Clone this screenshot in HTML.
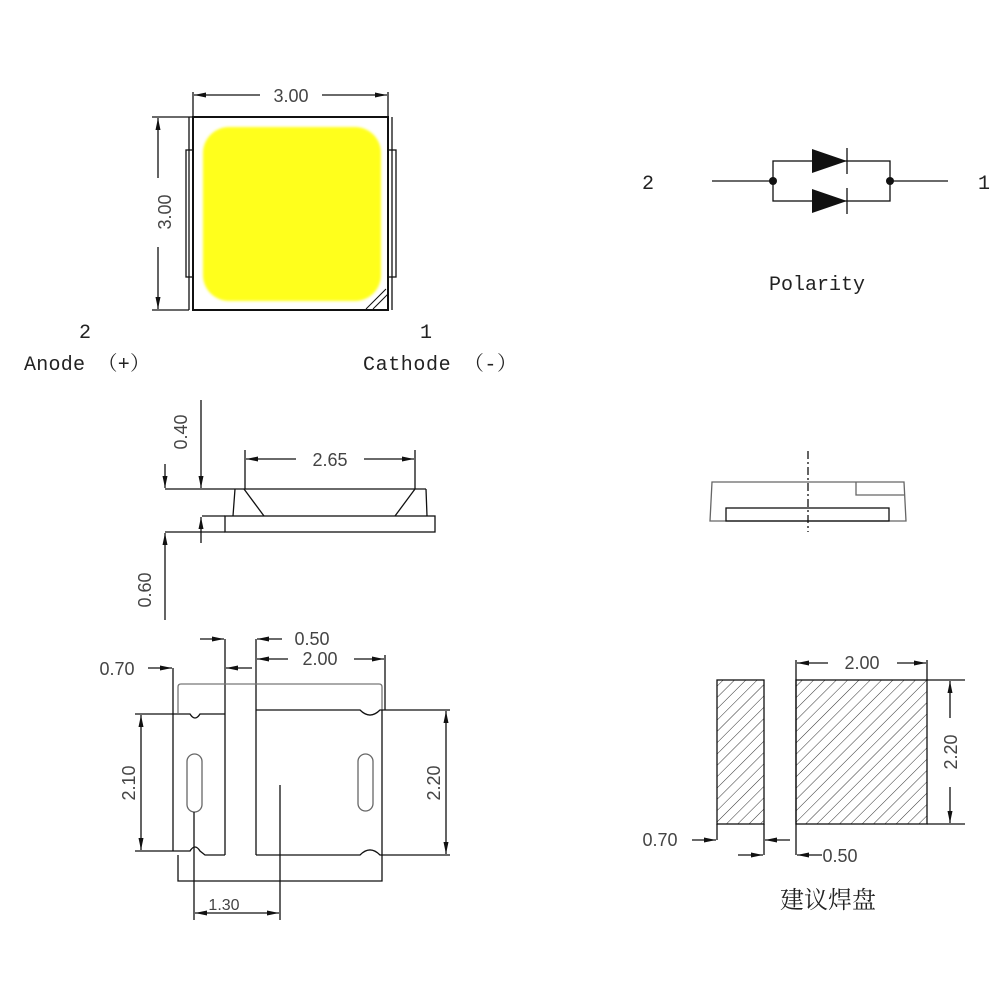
<!DOCTYPE html>
<html><head><meta charset="utf-8"><style>
html,body{margin:0;padding:0;background:#fff;width:1000px;height:1000px;overflow:hidden}
svg{display:block}
.d{font-family:"Liberation Sans",sans-serif;font-size:18px;fill:#444}
.m{font-family:"Liberation Mono","Noto Serif CJK SC",monospace;font-size:20px;fill:#222}
</style></head><body>
<svg width="1000" height="1000" viewBox="0 0 1000 1000" xmlns="http://www.w3.org/2000/svg">
<defs>
<marker id="a" viewBox="0 0 12 6" refX="12" refY="3" markerWidth="12" markerHeight="6" markerUnits="userSpaceOnUse" orient="auto-start-reverse"><path d="M0,0.5 L12,3 L0,5.5 Z" fill="#111"/></marker>
<pattern id="h" patternUnits="userSpaceOnUse" width="8" height="8" patternTransform="rotate(45)"><line x1="0" y1="0" x2="0" y2="8" stroke="#333" stroke-width="1"/></pattern>
<filter id="b"><feGaussianBlur stdDeviation="1.2"/></filter>
</defs>
<g fill="none" stroke="#111" stroke-width="1.3">
<rect x="193" y="117" width="195" height="193" stroke-width="2"/>
<line x1="189" y1="117" x2="189" y2="310"/>
<line x1="392" y1="117" x2="392" y2="310"/>
<rect x="186" y="150" width="7" height="127"/>
<rect x="388" y="150" width="8" height="127"/>
<rect x="203" y="127" width="178" height="174" rx="26" fill="#ffff1a" stroke="none" filter="url(#b)"/>
<line x1="366" y1="309" x2="386" y2="289" stroke-width="1"/>
<line x1="373" y1="309" x2="388" y2="294" stroke-width="1"/>
<line x1="193" y1="92" x2="193" y2="117"/>
<line x1="388" y1="92" x2="388" y2="117"/>
<line x1="194" y1="95" x2="260" y2="95" marker-start="url(#a)"/>
<line x1="322" y1="95" x2="387" y2="95" marker-end="url(#a)"/>
<line x1="152" y1="117" x2="193" y2="117"/>
<line x1="152" y1="310" x2="189" y2="310"/>
<line x1="158" y1="118" x2="158" y2="178" marker-start="url(#a)"/>
<line x1="158" y1="247" x2="158" y2="309" marker-end="url(#a)"/>
<line x1="712" y1="181" x2="773" y2="181"/>
<line x1="890" y1="181" x2="948" y2="181"/>
<rect x="773" y="161" width="117" height="40"/>
<line x1="847" y1="148" x2="847" y2="174"/>
<line x1="847" y1="188" x2="847" y2="214"/>
<line x1="165" y1="489" x2="426" y2="489"/>
<path d="M235,489 L233,516 M426,489 L427,516 M244,489 L264,516 M415,489 L395,516"/>
<rect x="225" y="516" width="210" height="16"/>
<line x1="202" y1="516" x2="225" y2="516"/>
<line x1="165" y1="532" x2="225" y2="532"/>
<line x1="201" y1="400" x2="201" y2="488" marker-end="url(#a)"/>
<line x1="201" y1="517" x2="201" y2="543" marker-start="url(#a)"/>
<line x1="165" y1="464" x2="165" y2="488" marker-end="url(#a)"/>
<line x1="165" y1="533" x2="165" y2="620" marker-start="url(#a)"/>
<line x1="245" y1="450" x2="245" y2="489"/>
<line x1="415" y1="450" x2="415" y2="489"/>
<line x1="246" y1="459" x2="296" y2="459" marker-start="url(#a)"/>
<line x1="364" y1="459" x2="414" y2="459" marker-end="url(#a)"/>
<path d="M712,482 L904,482 L906,521 L710,521 Z" stroke="#666"/>
<rect x="726" y="508" width="163" height="13"/>
<path d="M856,482 L856,495 L904,495" stroke="#666"/>
<line x1="808" y1="451" x2="808" y2="532" stroke-dasharray="8,3,2,3"/>
<line x1="200" y1="639" x2="224" y2="639" marker-end="url(#a)"/>
<line x1="257" y1="639" x2="282" y2="639" marker-start="url(#a)"/>
<line x1="257" y1="659" x2="288" y2="659" marker-start="url(#a)"/>
<line x1="354" y1="659" x2="384" y2="659" marker-end="url(#a)"/>
<line x1="148" y1="668" x2="172" y2="668" marker-end="url(#a)"/>
<line x1="226" y1="668" x2="252" y2="668" marker-start="url(#a)"/>
<line x1="225" y1="639" x2="225" y2="855"/>
<line x1="256" y1="639" x2="256" y2="855"/>
<line x1="173" y1="668" x2="173" y2="851"/>
<line x1="385" y1="655" x2="385" y2="710"/>
<path d="M178,713 L178,687 Q178,684 181,684 L379,684 Q382,684 382,687 L382,710" stroke="#777"/>
<path d="M135,714 L190,714 Q195,722 200,714 L225,714" />
<path d="M256,710 L360,710 Q370,720 380,710 L450,710"/>
<path d="M135,851 L190,851 Q195,843 200,851 L205,855 L225,855"/>
<path d="M256,855 L360,855 Q370,845 380,855 L450,855"/>
<line x1="382" y1="710" x2="382" y2="855"/>
<path d="M178,855 L178,881 L382,881 L382,855"/>
<line x1="141" y1="715" x2="141" y2="850" marker-start="url(#a)" marker-end="url(#a)"/>
<line x1="446" y1="711" x2="446" y2="854" marker-start="url(#a)" marker-end="url(#a)"/>
<rect x="187" y="754" width="15" height="58" rx="7.5" stroke="#666"/>
<rect x="358" y="754" width="15" height="57" rx="7.5" stroke="#666"/>
<line x1="194" y1="812" x2="194" y2="920"/>
<line x1="280" y1="785" x2="280" y2="920"/>
<line x1="195" y1="913" x2="279" y2="913" marker-start="url(#a)" marker-end="url(#a)"/>
<rect x="717" y="680" width="47" height="144" fill="url(#h)"/>
<rect x="796" y="680" width="131" height="144" fill="url(#h)"/>
<line x1="717" y1="824" x2="717" y2="840"/>
<line x1="764" y1="824" x2="764" y2="855"/>
<line x1="796" y1="660" x2="796" y2="855"/>
<line x1="927" y1="660" x2="927" y2="680"/>
<line x1="797" y1="663" x2="828" y2="663" marker-start="url(#a)"/>
<line x1="897" y1="663" x2="926" y2="663" marker-end="url(#a)"/>
<line x1="927" y1="680" x2="965" y2="680"/>
<line x1="927" y1="824" x2="965" y2="824"/>
<line x1="950" y1="681" x2="950" y2="718" marker-start="url(#a)"/>
<line x1="950" y1="787" x2="950" y2="823" marker-end="url(#a)"/>
<line x1="692" y1="840" x2="716" y2="840" marker-end="url(#a)"/>
<line x1="765" y1="840" x2="790" y2="840" marker-start="url(#a)"/>
<line x1="738" y1="855" x2="763" y2="855" marker-end="url(#a)"/>
<line x1="797" y1="855" x2="822" y2="855" marker-start="url(#a)"/>
</g>
<g fill="#111">
<circle cx="773" cy="181" r="4"/><circle cx="890" cy="181" r="4"/>
<path d="M812,149 L847,161 L812,173 Z"/>
<path d="M812,189 L847,201 L812,213 Z"/>
</g>
<g class="d">
<text x="291" y="102" text-anchor="middle">3.00</text>
<text transform="translate(171,212) rotate(-90)" text-anchor="middle">3.00</text>
<text x="330" y="466" text-anchor="middle">2.65</text>
<text transform="translate(187,432) rotate(-90)" text-anchor="middle">0.40</text>
<text transform="translate(151,590) rotate(-90)" text-anchor="middle">0.60</text>
<text x="312" y="645" text-anchor="middle">0.50</text>
<text x="320" y="665" text-anchor="middle">2.00</text>
<text x="117" y="675" text-anchor="middle">0.70</text>
<text transform="translate(135,783) rotate(-90)" text-anchor="middle">2.10</text>
<text transform="translate(440,783) rotate(-90)" text-anchor="middle">2.20</text>
<text x="224" y="910" text-anchor="middle" style="font-size:16px">1.30</text>
<text x="862" y="669" text-anchor="middle">2.00</text>
<text transform="translate(957,752) rotate(-90)" text-anchor="middle">2.20</text>
<text x="660" y="846" text-anchor="middle">0.70</text>
<text x="840" y="862" text-anchor="middle">0.50</text>
</g>
<g class="m">
<text x="85" y="338" text-anchor="middle">2</text>
<text x="24" y="370" textLength="126" lengthAdjust="spacing">Anode （+）</text>
<text x="426" y="338" text-anchor="middle">1</text>
<text x="363" y="370" textLength="154" lengthAdjust="spacing">Cathode （-）</text>
<text x="648" y="189" text-anchor="middle">2</text>
<text x="984" y="189" text-anchor="middle">1</text>
<text x="817" y="290" text-anchor="middle">Polarity</text>
</g>
<text x="828" y="908" text-anchor="middle" style="font-family:'Noto Serif CJK SC','Noto Sans CJK SC',serif;font-size:24px;fill:#222">建议焊盘</text>
</svg>
</body></html>
